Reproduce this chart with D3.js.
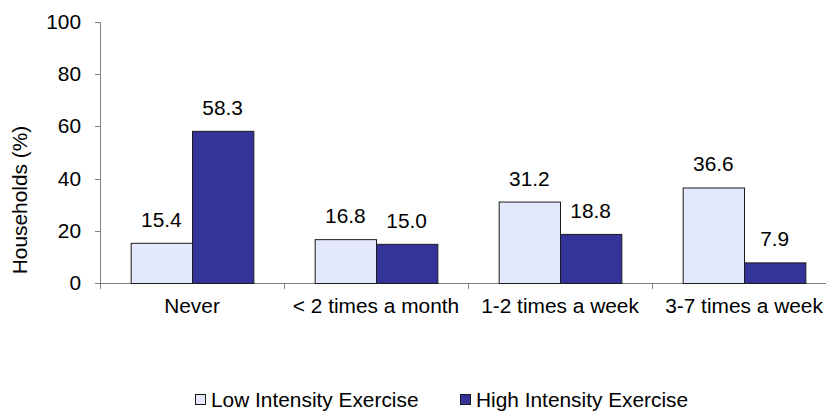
<!DOCTYPE html>
<html>
<head>
<meta charset="utf-8">
<script src="https://cdn.jsdelivr.net/npm/d3@7"></script>
<style>
  html, body { margin: 0; padding: 0; background: #fff; }
  svg { display: block; }
  text { font-family: "Liberation Sans", Arial, sans-serif; fill: #000; }
</style>
</head>
<body>
<svg id="chart" width="826" height="414"></svg>
<script>
// Household exercise frequency, share of households by intensity
const categories = ["Never", "< 2 times a month", "1-2 times a week", "3-7 times a week"];
const seriesNames = ["Low Intensity Exercise", "High Intensity Exercise"];
const lowValues = [15.4, 16.8, 31.2, 36.6];
const highValues = [58.3, 15.0, 18.8, 7.9];
const yTicks = [0, 20, 40, 60, 80, 100];
const yLabel = "Households (%)";

const colors = ["#E3E8FB", "#333399"];
const FONT = 19.5;     // glyph height
const STRETCH = 1.07;  // horizontal glyph width factor

const svg = d3.select("#chart");
const plotLeft = 100, plotRight = 836, plotTop = 22, plotBottom = 283;

const x = d3.scaleBand().domain(categories).range([plotLeft, plotRight]).paddingInner(0).paddingOuter(0);
const xSub = d3.scaleBand().domain(seriesNames).range([0, x.bandwidth()]).paddingInner(0).paddingOuter(0.5);
const y = d3.scaleLinear().domain([0, 100]).range([plotBottom, plotTop]);

// places a label with its glyphs widened horizontally around the anchor point
function label(g, px, py, str, anchor, size, rotate) {
  return g.append("text")
    .attr("transform", `translate(${px},${py})` + (rotate ? ` rotate(${rotate})` : "") + ` scale(${STRETCH},1)`)
    .attr("text-anchor", anchor)
    .attr("font-size", size || FONT)
    .text(str);
}

const axisColor = "#808080";

// y axis
const yAxis = svg.append("g");
yAxis.append("line").attr("x1", plotLeft + 0.5).attr("x2", plotLeft + 0.5)
  .attr("y1", y(100)).attr("y2", y(0)).attr("stroke", axisColor);
yTicks.forEach(v => {
  yAxis.append("line").attr("x1", plotLeft - 5).attr("x2", plotLeft)
    .attr("y1", Math.round(y(v)) + 0.5).attr("y2", Math.round(y(v)) + 0.5).attr("stroke", axisColor);
  label(yAxis, 81, y(v) + FONT * 0.36, String(v), "end");
});

// x axis
const xAxis = svg.append("g");
xAxis.append("line").attr("x1", plotLeft).attr("x2", plotRight)
  .attr("y1", plotBottom + 0.5).attr("y2", plotBottom + 0.5).attr("stroke", axisColor);
categories.forEach(c => {
  const bx = Math.round(x(c)) + 0.5;
  xAxis.append("line").attr("x1", bx).attr("x2", bx)
    .attr("y1", plotBottom).attr("y2", plotBottom + 6).attr("stroke", axisColor);
  label(xAxis, x(c) + x.bandwidth() / 2, 312.5, c, "middle");
});

// bars and value labels
const series = [lowValues, highValues];
const barsG = svg.append("g");
series.forEach((vals, s) => {
  categories.forEach((c, i) => {
    const v = vals[i];
    const bx = x(c) + xSub(seriesNames[s]);
    barsG.append("rect")
      .attr("x", bx + 0.5)
      .attr("y", y(v) + 0.5)
      .attr("width", xSub.bandwidth())
      .attr("height", y(0) - y(v))
      .attr("fill", colors[s])
      .attr("stroke", "#1a1a1a")
      .attr("stroke-width", 1);
    label(barsG, bx + xSub.bandwidth() / 2, y(v) - 16, v.toFixed(1), "middle");
  });
});

// y axis title
label(svg, 27, 200, yLabel, "middle", 19.5, -90);

// legend
const legend = svg.append("g");
const legendX = [195, 460];
seriesNames.forEach((name, s) => {
  legend.append("rect")
    .attr("x", legendX[s] + 0.5).attr("y", 394.5)
    .attr("width", 10).attr("height", 10)
    .attr("fill", colors[s]).attr("stroke", "#1a1a1a");
  label(legend, legendX[s] + 16, 406.5, name, "start");
});
</script>
</body>
</html>
